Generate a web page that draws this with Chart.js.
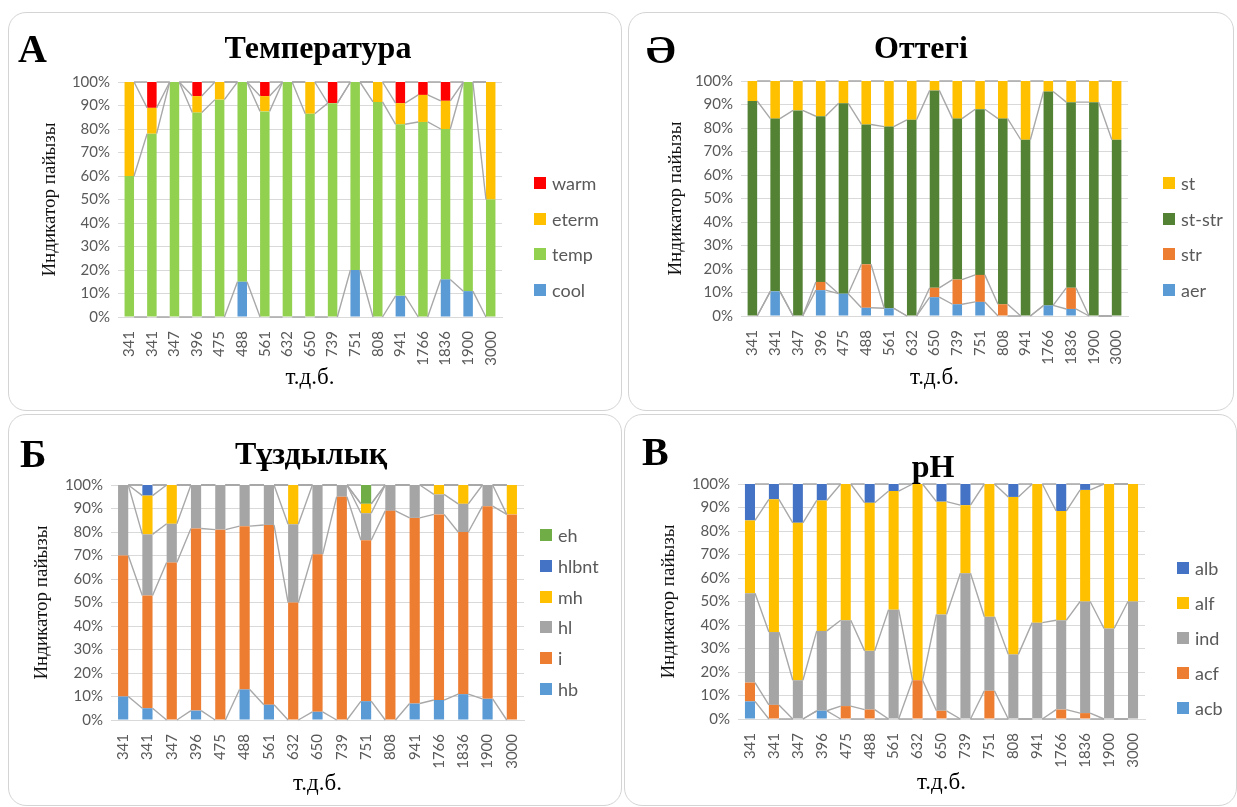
<!DOCTYPE html>
<html>
<head>
<meta charset="utf-8">
<script src="https://cdn.jsdelivr.net/npm/chart.js@4.4.1/dist/chart.umd.min.js"></script>
<style>
  html, body { margin: 0; padding: 0; background: #fff; }
  body { width: 1237px; height: 807px; position: relative; overflow: hidden; }
  .frame { position: absolute; border: 1px solid #d4d4d4; border-radius: 18px; box-sizing: border-box; }
  canvas { position: absolute; }
  .letter, .title { position: absolute; font-family: 'Liberation Serif', 'Times New Roman', serif;
    font-weight: bold; color: #000; line-height: 1; white-space: nowrap; }
  .letter { font-size: 40px; transform: translateY(-50%); }
  .title { font-size: 32px; transform: translate(-50%, -50%); }
  .legend { position: absolute; font-family: Lato, sans-serif; font-size: 18px; color: #595959; }
  .legend .item { position: absolute; left: 0; display: flex; align-items: center;
    white-space: nowrap; transform: translateY(-50%); line-height: 1; }
  .legend .box { width: 12px; height: 12px; margin-right: 6px; flex: none; }
</style>
</head>
<body>
<script>
// Sampling depths (т.д.б.) shared by all four panels
const depths = ['341', '341', '347', '396', '475', '488', '561', '632', '650',
                '739', '751', '808', '941', '1766', '1836', '1900', '3000'];

// Температура
const tempCool  = [0, 0, 0, 0, 0, 15, 0, 0, 0, 0, 20, 0, 9, 0, 16, 11, 0];
const tempTemp  = [60, 78, 100, 87, 92.5, 85, 87.5, 100, 86.5, 91, 80, 91.5, 73, 83, 64, 89, 50];
const tempEterm = [40, 11, 0, 7, 7.5, 0, 6.5, 0, 13.5, 0, 0, 8.5, 9, 11.5, 12, 0, 50];
const tempWarm  = [0, 11, 0, 6, 0, 0, 6, 0, 0, 9, 0, 0, 9, 5.5, 8, 0, 0];

// Оттегі
const oxyAer   = [0, 10.5, 0, 11, 9.5, 3.5, 3.3, 0, 8, 5, 6, 0, 0, 4.5, 3, 0, 0];
const oxyStr   = [0, 0, 0, 3.5, 0, 18.5, 0, 0, 4, 10.5, 11.5, 5, 0, 0, 9, 0, 0];
const oxyStStr = [91.5, 73.5, 87.5, 70.5, 81, 59.5, 77.3, 83.5, 84, 68.5, 70.5, 79, 75, 91, 79, 91, 75];
const oxySt    = [8.5, 16, 12.5, 15, 9.5, 18.5, 19.4, 16.5, 4, 16, 12, 16, 25, 4.5, 9, 9, 25];

// Тұздылық
const salHb    = [10, 5, 0, 4, 0, 13, 6.5, 0, 3.5, 0, 8, 0, 7, 8.5, 11, 9, 0];
const salI     = [60, 48, 67, 77.5, 81, 69.5, 76.5, 50, 67, 95, 68.5, 89, 79, 79, 69, 82, 87.5];
const salHl    = [30, 26, 16.5, 18.5, 19, 17.5, 17, 33.3, 29.5, 5, 11.5, 11, 14, 8.5, 12, 9, 0];
const salMh    = [0, 16.5, 16.5, 0, 0, 0, 0, 16.7, 0, 0, 4, 0, 0, 4, 8, 0, 12.5];
const salHlbnt = [0, 4.5, 0, 0, 0, 0, 0, 0, 0, 0, 0, 0, 0, 0, 0, 0, 0];
const salEh    = [0, 0, 0, 0, 0, 0, 0, 0, 0, 0, 8, 0, 0, 0, 0, 0, 0];

// pH
const phAcb = [7.5, 0, 0, 3.5, 0, 0, 0, 0, 0, 0, 0, 0, 0, 0, 0, 0, 0];
const phAcf = [8, 6, 0, 0, 5.5, 4, 0, 16.5, 3.5, 0, 12, 0, 0, 4, 2.5, 0, 0];
const phInd = [38, 31, 16.5, 34, 36.5, 25, 46.5, 0, 41, 62, 31.5, 27.5, 41, 38, 47.5, 38.5, 50];
const phAlf = [31, 56.5, 67, 55.5, 58, 63, 50.5, 83.5, 48, 29, 56.5, 67, 59, 46.5, 47.5, 61.5, 50];
const phAlb = [15.5, 6.5, 16.5, 7, 0, 8, 3, 0, 7.5, 9, 0, 5.5, 0, 11.5, 2.5, 0, 0];

// Tick labels of the percentage axis
const yTicks = [0, 10, 20, 30, 40, 50, 60, 70, 80, 90, 100];

const C = {
  red: '#FF0000', gold: '#FFC000', lime: '#92D050', sky: '#5B9BD5',
  forest: '#548235', orange: '#ED7D31', grey: '#A5A5A5', navy: '#4472C4', green: '#70AD47'
};

const SERIF = "'Liberation Serif', 'Times New Roman', serif";
Chart.defaults.font.family = 'Lato, sans-serif';

// Grey connector lines between the tops of matching segments of neighbouring bars
const seriesLines = {
  id: 'seriesLines',
  afterDatasetsDraw(chart) {
    const ctx = chart.ctx;
    ctx.save();
    ctx.strokeStyle = '#a8a8a8';
    ctx.lineWidth = 1.4;
    chart.data.datasets.forEach((ds, d) => {
      const bars = chart.getDatasetMeta(d).data;
      ctx.beginPath();
      for (let j = 0; j < bars.length - 1; j++) {
        const a = bars[j], b = bars[j + 1];
        ctx.moveTo(a.x + a.width / 2, a.y);
        ctx.lineTo(b.x - b.width / 2, b.y);
      }
      ctx.stroke();
    });
    ctx.restore();
  }
};

function el(tag, cls, parent) {
  const e = document.createElement(tag);
  if (cls) e.className = cls;
  (parent || document.body).appendChild(e);
  return e;
}

function panel(p) {
  const f = el('div', 'frame');
  Object.assign(f.style, { left: p.frame[0] + 'px', top: p.frame[1] + 'px',
    width: p.frame[2] + 'px', height: p.frame[3] + 'px' });

  const cv = el('canvas');
  cv.width = p.w; cv.height = p.h;
  cv.style.left = p.x + 'px'; cv.style.top = p.y + 'px';

  const lt = el('div', 'letter');
  lt.textContent = p.letter;
  lt.style.left = p.letterPos[0] + 'px'; lt.style.top = p.letterPos[1] + 'px';

  const tt = el('div', 'title');
  tt.textContent = p.title;
  tt.style.left = p.titlePos[0] + 'px'; tt.style.top = p.titlePos[1] + 'px';

  // legend: top series first
  const lg = el('div', 'legend');
  lg.style.left = p.legend[0] + 'px'; lg.style.top = p.legend[1] + 'px';
  p.series.slice().reverse().forEach((s, k) => {
    const it = el('div', 'item', lg);
    it.style.top = (k * p.legend[2]) + 'px';
    const bx = el('span', 'box', it);
    bx.style.background = s.color;
    el('span', '', it).textContent = s.label;
  });

  const area = p.area; // [left, top, right, bottom] in canvas pixels
  new Chart(cv, {
    type: 'bar',
    data: {
      labels: depths,
      datasets: p.series.map(s => ({
        label: s.label, data: s.data, backgroundColor: s.color, borderWidth: 0,
        barPercentage: 0.42, categoryPercentage: 1
      }))
    },
    options: {
      responsive: false, animation: false, devicePixelRatio: 1,
      layout: { padding: { left: 0, top: area[1], right: p.w - area[2], bottom: 0 } },
      plugins: { legend: { display: false }, tooltip: { enabled: false } },
      scales: {
        x: {
          stacked: true,
          grid: { display: false },
          border: { display: true, color: '#d9d9d9' },
          ticks: { autoSkip: false, maxRotation: 90, minRotation: 90, padding: 6,
                   color: '#595959', font: { size: 15 } },
          title: { display: true, text: 'т.д.б.', color: '#000',
                   font: { family: SERIF, size: 23 }, padding: { top: 0, bottom: p.xTitlePad } },
          afterFit(s) { s.height = p.h - area[3]; }
        },
        y: {
          stacked: true, min: 0, max: 100,
          grid: { color: '#d9d9d9', drawTicks: false },
          border: { display: false },
          afterBuildTicks(s) { s.ticks = yTicks.map(v => ({ value: v })); },
          ticks: { padding: 8, color: '#595959', font: { size: 15 }, callback: v => v + '%' },
          title: { display: true, text: 'Индикатор пайызы', color: '#111',
                   font: { family: SERIF, size: 19 }, padding: { top: p.yTitlePad, bottom: 0 } },
          afterFit(s) { s.width = area[0]; }
        }
      }
    },
    plugins: [seriesLines]
  });
}

panel({
  frame: [8, 12, 614, 399], x: 8, y: 12, w: 614, h: 398,
  area: [110, 70, 494, 305], yTitlePad: 31, xTitlePad: 18,
  letter: 'А', letterPos: [18, 49], title: 'Температура', titlePos: [318, 47],
  legend: [534, 183, 35.7],
  series: [
    { label: 'cool', data: tempCool, color: C.sky },
    { label: 'temp', data: tempTemp, color: C.lime },
    { label: 'eterm', data: tempEterm, color: C.gold },
    { label: 'warm', data: tempWarm, color: C.red }
  ]
});

panel({
  frame: [628, 12, 606, 399], x: 628, y: 12, w: 605, h: 398,
  area: [113, 69, 500, 304], yTitlePad: 37, xTitlePad: 18,
  letter: 'Ә', letterPos: [646, 50], title: 'Оттегі', titlePos: [921, 47],
  legend: [1163, 183, 35.7],
  series: [
    { label: 'aer', data: oxyAer, color: C.sky },
    { label: 'str', data: oxyStr, color: C.orange },
    { label: 'st-str', data: oxyStStr, color: C.forest },
    { label: 'st', data: oxySt, color: C.gold }
  ]
});

panel({
  frame: [8, 414, 614, 392], x: 8, y: 414, w: 614, h: 392,
  area: [103, 71, 516, 306], yTitlePad: 23, xTitlePad: 8,
  letter: 'Б', letterPos: [20, 454], title: 'Тұздылық', titlePos: [311, 453],
  legend: [540, 535, 30.8],
  series: [
    { label: 'hb', data: salHb, color: C.sky },
    { label: 'i', data: salI, color: C.orange },
    { label: 'hl', data: salHl, color: C.grey },
    { label: 'mh', data: salMh, color: C.gold },
    { label: 'hlbnt', data: salHlbnt, color: C.navy },
    { label: 'eh', data: salEh, color: C.green }
  ]
});

panel({
  frame: [624, 414, 613, 392], x: 624, y: 414, w: 613, h: 392,
  area: [114, 70, 521, 305], yTitlePad: 34, xTitlePad: 9,
  letter: 'В', letterPos: [642, 452], title: 'pH', titlePos: [933, 466],
  legend: [1177, 568, 35],
  series: [
    { label: 'acb', data: phAcb, color: C.sky },
    { label: 'acf', data: phAcf, color: C.orange },
    { label: 'ind', data: phInd, color: C.grey },
    { label: 'alf', data: phAlf, color: C.gold },
    { label: 'alb', data: phAlb, color: C.navy }
  ]
});
</script>
</body>
</html>
